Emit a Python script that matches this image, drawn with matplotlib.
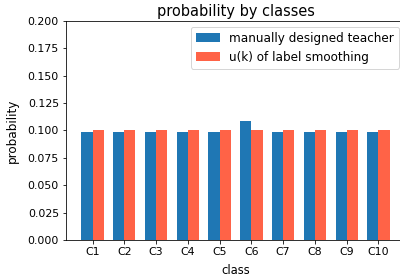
import numpy as np
import matplotlib
matplotlib.use('Agg')
import matplotlib.pyplot as plt

classes = ['C1', 'C2', 'C3', 'C4', 'C5', 'C6', 'C7', 'C8', 'C9', 'C10']
teacher = [0.099, 0.099, 0.099, 0.099, 0.099, 0.109, 0.099, 0.099, 0.099, 0.099]
uniform = [0.1, 0.1, 0.1, 0.1, 0.1, 0.1, 0.1, 0.1, 0.1, 0.1]

plt.rcParams['font.size'] = 11
fig = plt.figure(figsize=(400 / 72, 278 / 72), dpi=72)
ax = fig.add_axes([0.165, 0.1367, 0.8475, 0.7878])

x = np.arange(len(classes))
width = 0.35
ax.bar(x - width / 2, teacher, width, color='#1f77b4', label='manually designed teacher')
ax.bar(x + width / 2, uniform, width, color='tomato', label='u(k) of label smoothing')

ax.set_xticks(x)
ax.set_xticklabels(classes)
ax.set_ylim(0, 0.2)
ax.set_yticks(np.arange(0, 0.201, 0.025))
ax.set_xlabel('class', fontsize=11.5, labelpad=7)
ax.set_ylabel('probability', fontsize=12, labelpad=9)
ax.set_title('probability by classes', fontsize=14.5, pad=5)
ax.legend(loc='upper right', fontsize=12)

fig.savefig('out.png', dpi=72)
